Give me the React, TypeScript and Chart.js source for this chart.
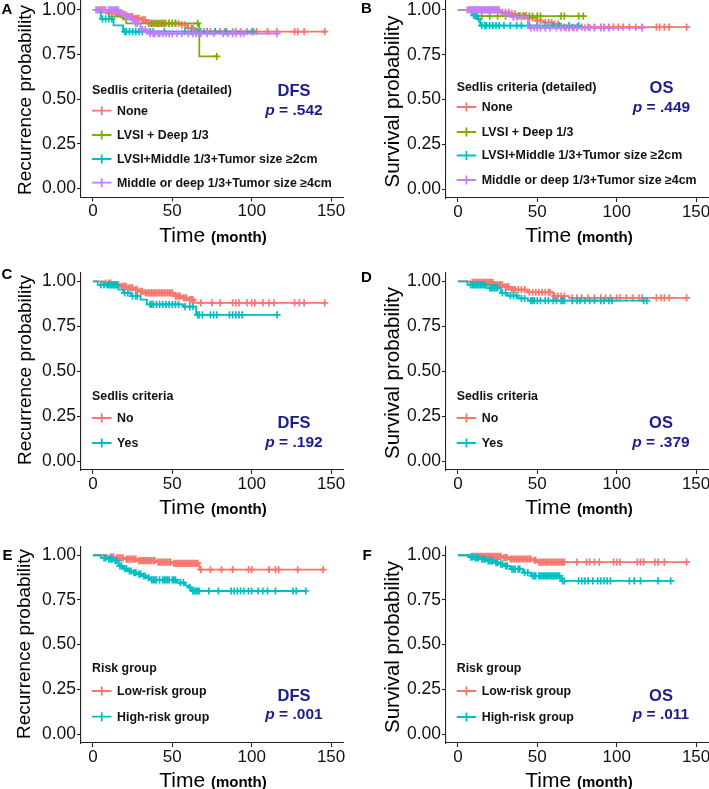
import React, { useEffect, useRef } from 'react';
import { Chart, registerables } from 'chart.js';
Chart.register(...registerables);

const FONT = '"Liberation Sans", Arial, Helvetica, sans-serif';
const X_TICKS = [0, 50, 100, 150];
const Y_TICKS = [0, 0.25, 0.5, 0.75, 1];

const RED = '#F8766D';
const GREEN = '#7CAE00';
const TEAL = '#00BFC4';
const PURPLE = '#C77CFF';
const NAVY = '#1c1c8e';
const INK = '#111111';

// ---------- Panel A (DFS, detailed Sedlis) ----------
const A_NONE_T = [9, 17, 22, 26, 30, 34, 55, 59, 64];
const A_NONE_S = [0.981, 0.972, 0.963, 0.953, 0.944, 0.925, 0.916, 0.898, 0.879];
const A_NONE_END = 146;
const A_NONE_C = [3, 5, 7, 10, 12, 14, 15, 16, 18, 19, 20, 21, 23, 24, 25, 27, 28, 29, 31, 32, 33, 35, 36, 37, 38, 40, 41, 42, 44, 45, 46, 48, 50, 52, 54, 56, 58, 60, 62, 63, 66, 70, 74, 77, 80, 83, 88, 90, 93, 97, 100, 103, 110, 116, 127, 129, 133, 146];
const A_DEEP_T = [10, 21, 67];
const A_DEEP_S = [0.962, 0.925, 0.74];
const A_DEEP_END = 78;
const A_DEEP_C = [19, 20, 37, 39, 41, 43, 45, 48, 50, 52, 66, 78];
const A_MID_T = [5, 13, 19];
const A_MID_S = [0.95, 0.913, 0.879];
const A_MID_END = 101;
const A_MID_C = [6, 8, 10, 12, 20, 21, 23, 25, 27, 29, 31, 36, 38, 45, 58, 62, 65, 68, 72, 77, 84, 101];
const A_LARGE_T = [17, 20, 24, 26, 30, 34];
const A_LARGE_S = [0.98, 0.963, 0.944, 0.925, 0.89, 0.867];
const A_LARGE_END = 116;
const A_LARGE_C = [2, 4, 6, 8, 10, 11, 12, 13, 14, 15, 16, 18, 19, 21, 22, 23, 25, 27, 28, 31, 33, 36, 38, 39, 41, 42, 44, 46, 48, 50, 53, 56, 60, 63, 65, 68, 72, 76, 82, 85, 88, 90, 93, 95, 116];

// ---------- Panel B (OS, detailed Sedlis) ----------
const B_NONE_T = [27, 33, 38, 44, 49, 54, 60, 65];
const B_NONE_S = [0.987, 0.978, 0.968, 0.955, 0.94, 0.93, 0.922, 0.904];
const B_NONE_END = 144;
const B_NONE_C = [6, 9, 11, 13, 15, 17, 19, 21, 23, 25, 28, 30, 32, 34, 36, 39, 41, 43, 45, 47, 50, 52, 55, 57, 59, 61, 63, 67, 70, 72, 75, 78, 82, 86, 90, 92, 95, 98, 101, 104, 108, 112, 116, 125, 127, 130, 133, 144];
const B_DEEP_T = [10];
const B_DEEP_S = [0.965];
const B_DEEP_END = 79;
const B_DEEP_C = [12, 15, 20, 25, 30, 35, 38, 42, 45, 47, 50, 52, 65, 67, 76, 79];
const B_MID_T = [9, 12, 14];
const B_MID_S = [0.97, 0.95, 0.912];
const B_MID_END = 76;
const B_MID_C = [10, 11, 13, 15, 17, 18, 20, 22, 24, 26, 29, 33, 37, 40, 45, 50, 55, 60, 64, 70, 76];
const B_LARGE_T = [27, 33, 44];
const B_LARGE_S = [0.98, 0.96, 0.9];
const B_LARGE_END = 116;
const B_LARGE_C = [7, 8, 9, 10, 11, 12, 13, 14, 15, 16, 17, 18, 19, 20, 21, 22, 23, 24, 25, 26, 30, 32, 35, 37, 40, 46, 48, 50, 52, 55, 58, 62, 65, 68, 70, 73, 75, 80, 83, 86, 90, 92, 95, 116];

// ---------- Panel C (DFS, Sedlis) ----------
const C_NO_T = [7, 12, 17, 22, 26, 29, 32, 51, 56, 60, 64];
const C_NO_S = [0.99, 0.981, 0.972, 0.963, 0.954, 0.944, 0.935, 0.917, 0.908, 0.898, 0.88];
const C_NO_END = 146;
const C_NO_C = [8, 10, 11, 13, 14, 15, 16, 18, 19, 20, 21, 23, 24, 25, 27, 28, 30, 31, 33, 34, 35, 36, 37, 38, 39, 40, 41, 42, 43, 44, 45, 46, 47, 48, 49, 50, 52, 53, 54, 55, 57, 58, 59, 61, 62, 63, 68, 75, 80, 88, 90, 92, 97, 100, 102, 107, 111, 114, 127, 130, 133, 146];
const C_YES_T = [3, 16, 19, 24, 30, 34, 57, 65];
const C_YES_S = [0.98, 0.954, 0.935, 0.917, 0.898, 0.872, 0.859, 0.813];
const C_YES_END = 116;
const C_YES_C = [5, 7, 9, 10, 11, 12, 13, 14, 15, 20, 22, 25, 27, 28, 36, 37, 38, 40, 42, 44, 46, 48, 50, 52, 54, 58, 61, 63, 66, 67, 69, 74, 76, 78, 86, 88, 90, 92, 94, 116];

// ---------- Panel D (OS, Sedlis) ----------
const D_NO_T = [8, 23, 29, 33, 44, 60, 70];
const D_NO_S = [0.994, 0.98, 0.969, 0.954, 0.939, 0.917, 0.908];
const D_NO_END = 144;
const D_NO_C = [9, 10, 11, 12, 13, 14, 15, 16, 17, 18, 19, 20, 21, 22, 24, 25, 26, 27, 28, 30, 31, 32, 34, 35, 36, 38, 40, 42, 45, 47, 49, 51, 53, 55, 57, 58, 61, 63, 65, 67, 72, 75, 78, 82, 86, 90, 93, 96, 100, 102, 106, 110, 114, 116, 125, 128, 130, 133, 144];
const D_YES_T = [6, 18, 27, 31, 38, 44];
const D_YES_S = [0.98, 0.963, 0.935, 0.92, 0.905, 0.892];
const D_YES_END = 119;
const D_YES_C = [8, 9, 10, 11, 12, 13, 14, 15, 16, 17, 20, 21, 22, 23, 24, 25, 28, 30, 33, 35, 37, 40, 42, 46, 47, 48, 50, 52, 55, 57, 60, 62, 65, 66, 67, 72, 75, 77, 80, 83, 86, 90, 92, 95, 97, 117, 119];

// ---------- Panel E (DFS, risk group) ----------
const E_LOW_T = [9, 14, 20, 28, 40, 50, 67];
const E_LOW_S = [0.99, 0.985, 0.978, 0.97, 0.962, 0.955, 0.92];
const E_LOW_END = 145;
const E_LOW_C = [11, 12, 13, 15, 16, 17, 18, 19, 21, 22, 23, 24, 25, 26, 27, 29, 30, 31, 32, 33, 34, 35, 36, 37, 38, 39, 41, 42, 43, 44, 45, 46, 47, 48, 49, 51, 52, 53, 54, 55, 56, 57, 58, 59, 60, 61, 62, 63, 64, 65, 66, 68, 74, 81, 88, 98, 100, 111, 115, 117, 129, 145];
const E_HIGH_T = [5, 9, 13, 16, 19, 22, 25, 28, 31, 34, 36, 53, 58, 60, 62];
const E_HIGH_S = [0.985, 0.978, 0.97, 0.94, 0.925, 0.912, 0.903, 0.894, 0.884, 0.875, 0.862, 0.847, 0.832, 0.82, 0.8];
const E_HIGH_END = 134;
const E_HIGH_C = [7, 8, 10, 11, 12, 14, 15, 17, 18, 20, 21, 23, 24, 26, 27, 29, 30, 32, 33, 35, 37, 38, 39, 40, 42, 44, 45, 46, 47, 48, 50, 51, 52, 55, 57, 61, 63, 64, 65, 66, 67, 73, 79, 87, 89, 91, 93, 95, 98, 100, 104, 107, 110, 115, 126, 128, 134];

// ---------- Panel F (OS, risk group) ----------
const F_LOW_T = [8, 28, 32, 47, 50];
const F_LOW_S = [0.994, 0.987, 0.979, 0.972, 0.962];
const F_LOW_END = 144;
const F_LOW_C = [9, 10, 11, 12, 13, 14, 15, 16, 17, 18, 19, 20, 21, 22, 23, 24, 25, 26, 27, 29, 30, 31, 33, 34, 35, 36, 37, 38, 39, 40, 41, 42, 43, 44, 45, 46, 48, 49, 51, 52, 53, 54, 55, 56, 57, 58, 59, 60, 61, 62, 63, 64, 65, 66, 67, 75, 81, 83, 86, 89, 98, 100, 102, 113, 115, 117, 124, 126, 130, 144];
const F_HIGH_T = [7, 10, 14, 18, 23, 26, 29, 33, 41, 46, 65];
const F_HIGH_S = [0.99, 0.985, 0.978, 0.968, 0.959, 0.95, 0.94, 0.922, 0.903, 0.885, 0.857];
const F_HIGH_END = 134;
const F_HIGH_C = [8, 9, 11, 12, 13, 15, 16, 17, 19, 20, 21, 22, 24, 25, 27, 28, 30, 31, 34, 35, 36, 38, 39, 42, 44, 47, 48, 49, 51, 52, 53, 54, 55, 56, 57, 58, 59, 60, 61, 62, 63, 64, 66, 67, 76, 78, 80, 82, 85, 88, 90, 92, 94, 96, 108, 111, 115, 126, 134];

const DETAILED_LABELS = ['None', 'LVSI + Deep 1/3', 'LVSI+Middle 1/3+Tumor size \u22652cm', 'Middle or deep 1/3+Tumor size \u22654cm'];
const SEDLIS_LABELS = ['No', 'Yes'];
const RISK_LABELS = ['Low-risk group', 'High-risk group'];

type Group = { label: string; color: string; t: number[]; s: number[]; end: number; c: number[] };

const mk = (label: string, color: string, t: number[], s: number[], end: number, c: number[]): Group => ({ label, color, t, s, end, c });

const PANELS = [
  {
    letter: 'A', canvasX: 0, canvasY: -30, canvasW: 354, plot: { L: 81, T: 1, R: 343, B: 197.5 },
    letterPos: [7, 10], yTitle: 'Recurrence probability', yTitleSize: 19, yTitlePos: [26, 100],
    xTitleX: 213, xTitleBase: 241.5,
    legendTitle: 'Sedlis criteria (detailed)', legendX: 92, legendTitleY: 90.5, legendItemsY: [110.7, 135, 159, 182.7],
    stat: 'DFS', p: '.542', statX: 294, statY: [91, 111],
    groups: [
      mk(DETAILED_LABELS[0], RED, A_NONE_T, A_NONE_S, A_NONE_END, A_NONE_C),
      mk(DETAILED_LABELS[1], GREEN, A_DEEP_T, A_DEEP_S, A_DEEP_END, A_DEEP_C),
      mk(DETAILED_LABELS[2], TEAL, A_MID_T, A_MID_S, A_MID_END, A_MID_C),
      mk(DETAILED_LABELS[3], PURPLE, A_LARGE_T, A_LARGE_S, A_LARGE_END, A_LARGE_C),
    ],
  },
  {
    letter: 'B', canvasX: 354, canvasY: -30, canvasW: 375, plot: { L: 446, T: 1, R: 708, B: 198 },
    letterPos: [366.5, 8.5], yTitle: 'Survival probability', yTitleSize: 20.5, yTitlePos: [393, 101.5],
    xTitleX: 579, xTitleBase: 241.5,
    legendTitle: 'Sedlis criteria (detailed)', legendX: 456.7, legendTitleY: 88, legendItemsY: [107, 132, 155.5, 180],
    stat: 'OS', p: '.449', statX: 661.5, statY: [88, 107.5],
    groups: [
      mk(DETAILED_LABELS[0], RED, B_NONE_T, B_NONE_S, B_NONE_END, B_NONE_C),
      mk(DETAILED_LABELS[1], GREEN, B_DEEP_T, B_DEEP_S, B_DEEP_END, B_DEEP_C),
      mk(DETAILED_LABELS[2], TEAL, B_MID_T, B_MID_S, B_MID_END, B_MID_C),
      mk(DETAILED_LABELS[3], PURPLE, B_LARGE_T, B_LARGE_S, B_LARGE_END, B_LARGE_C),
    ],
  },
  {
    letter: 'C', canvasX: 0, canvasY: 233, canvasW: 354, plot: { L: 81, T: 272.3, R: 343, B: 470 },
    letterPos: [7, 274.7], yTitle: 'Recurrence probability', yTitleSize: 19, yTitlePos: [26, 370],
    xTitleX: 213, xTitleBase: 513.5,
    legendTitle: 'Sedlis criteria', legendX: 92, legendTitleY: 397, legendItemsY: [418, 443],
    stat: 'DFS', p: '.192', statX: 294, statY: [423.7, 443],
    groups: [
      mk(SEDLIS_LABELS[0], RED, C_NO_T, C_NO_S, C_NO_END, C_NO_C),
      mk(SEDLIS_LABELS[1], TEAL, C_YES_T, C_YES_S, C_YES_END, C_YES_C),
    ],
  },
  {
    letter: 'D', canvasX: 354, canvasY: 233, canvasW: 375, plot: { L: 446, T: 272.3, R: 708, B: 470 },
    letterPos: [366.5, 278], yTitle: 'Survival probability', yTitleSize: 20.5, yTitlePos: [393, 373],
    xTitleX: 579, xTitleBase: 513.5,
    legendTitle: 'Sedlis criteria', legendX: 456.7, legendTitleY: 397, legendItemsY: [418, 443],
    stat: 'OS', p: '.379', statX: 661, statY: [423, 442.5],
    groups: [
      mk(SEDLIS_LABELS[0], RED, D_NO_T, D_NO_S, D_NO_END, D_NO_C),
      mk(SEDLIS_LABELS[1], TEAL, D_YES_T, D_YES_S, D_YES_END, D_YES_C),
    ],
  },
  {
    letter: 'E', canvasX: 0, canvasY: 496, canvasW: 354, plot: { L: 81, T: 546.3, R: 343, B: 743 },
    letterPos: [7.5, 556], yTitle: 'Recurrence probability', yTitleSize: 19, yTitlePos: [25, 644],
    xTitleX: 213, xTitleBase: 786.5,
    legendTitle: 'Risk group', legendX: 92, legendTitleY: 668.7, legendItemsY: [691, 716.7],
    stat: 'DFS', p: '.001', statX: 294, statY: [696.5, 714.5],
    groups: [
      mk(RISK_LABELS[0], RED, E_LOW_T, E_LOW_S, E_LOW_END, E_LOW_C),
      mk(RISK_LABELS[1], TEAL, E_HIGH_T, E_HIGH_S, E_HIGH_END, E_HIGH_C),
    ],
  },
  {
    letter: 'F', canvasX: 354, canvasY: 496, canvasW: 375, plot: { L: 446, T: 546.3, R: 708, B: 743 },
    letterPos: [367, 556], yTitle: 'Survival probability', yTitleSize: 20.5, yTitlePos: [393, 647],
    xTitleX: 579, xTitleBase: 786.5,
    legendTitle: 'Risk group', legendX: 456.7, legendTitleY: 668.7, legendItemsY: [691, 717],
    stat: 'OS', p: '.011', statX: 661, statY: [696.5, 714.5],
    groups: [
      mk(RISK_LABELS[0], RED, F_LOW_T, F_LOW_S, F_LOW_END, F_LOW_C),
      mk(RISK_LABELS[1], TEAL, F_HIGH_T, F_HIGH_S, F_HIGH_END, F_HIGH_C),
    ],
  },
];

const CANVAS_H = 300;

function survAt(t: number[], s: number[], x: number): number {
  let v = 1;
  for (let i = 0; i < t.length; i++) {
    if (t[i] <= x) v = s[i];
  }
  return v;
}

function Panel({ cfg }: { cfg: any }) {
  const ref = useRef<HTMLCanvasElement | null>(null);
  useEffect(() => {
    if (!ref.current) return;
    const n = cfg.groups.length;
    const datasets: any[] = [];
    cfg.groups.forEach((g: Group, gi: number) => {
      const pts = [{ x: 0, y: 1 }, ...g.t.map((t, i) => ({ x: t, y: g.s[i] })), { x: g.end, y: g.s[g.s.length - 1] }];
      datasets.push({
        label: g.label,
        data: pts,
        borderColor: g.color,
        backgroundColor: g.color,
        borderWidth: 1.8,
        stepped: true,
        pointRadius: 0,
        fill: false,
        order: (n - gi) * 2,
      });
      datasets.push({
        label: g.label + ' censored',
        data: g.c.map((c) => ({ x: c, y: survAt(g.t, g.s, c) })),
        showLine: false,
        pointStyle: 'cross',
        pointRadius: 3.6,
        pointBorderWidth: 1.7,
        pointBorderColor: g.color,
        pointBackgroundColor: g.color,
        borderColor: g.color,
        order: (n - gi) * 2 - 1,
      });
    });

    const padTop = cfg.plot.T - cfg.canvasY;
    const padRight = cfg.canvasX + cfg.canvasW - cfg.plot.R;
    const yWidth = cfg.plot.L - cfg.canvasX;
    const xHeight = cfg.canvasY + CANVAS_H - cfg.plot.B;

    const textPlugin = {
      id: 'panelText',
      afterDraw(chart: any) {
        const ctx: CanvasRenderingContext2D = chart.ctx;
        ctx.save();
        ctx.translate(-cfg.canvasX, -cfg.canvasY);
        ctx.fillStyle = '#000';
        // panel letter
        ctx.font = `bold 15px ${FONT}`;
        ctx.textAlign = 'center';
        ctx.textBaseline = 'middle';
        ctx.fillText(cfg.letter, cfg.letterPos[0], cfg.letterPos[1]);
        // y title
        ctx.save();
        ctx.translate(cfg.yTitlePos[0], cfg.yTitlePos[1]);
        ctx.rotate(-Math.PI / 2);
        ctx.font = `${cfg.yTitleSize}px ${FONT}`;
        ctx.fillText(cfg.yTitle, 0, 0);
        ctx.restore();
        // x title
        const f1 = `21px ${FONT}`;
        const f2 = `bold 15px ${FONT}`;
        ctx.font = f1;
        const w1 = ctx.measureText('Time ').width;
        ctx.font = f2;
        const w2 = ctx.measureText('(month)').width;
        const x0 = cfg.xTitleX - (w1 + w2) / 2;
        ctx.textAlign = 'left';
        ctx.textBaseline = 'alphabetic';
        ctx.font = f1;
        ctx.fillText('Time ', x0, cfg.xTitleBase);
        ctx.font = f2;
        ctx.fillText('(month)', x0 + w1, cfg.xTitleBase);
        // legend
        ctx.fillStyle = INK;
        ctx.textBaseline = 'middle';
        ctx.font = `bold 12.4px ${FONT}`;
        ctx.fillText(cfg.legendTitle, cfg.legendX, cfg.legendTitleY);
        cfg.groups.forEach((g: Group, i: number) => {
          const y = cfg.legendItemsY[i];
          const lx = cfg.legendX;
          ctx.strokeStyle = g.color;
          ctx.lineWidth = 1.8;
          ctx.beginPath();
          ctx.moveTo(lx, y);
          ctx.lineTo(lx + 19.5, y);
          ctx.moveTo(lx + 9.75, y - 4.5);
          ctx.lineTo(lx + 9.75, y + 4.5);
          ctx.stroke();
          ctx.fillStyle = INK;
          ctx.fillText(g.label, lx + 25, y + 0.5);
        });
        // stat annotation
        ctx.fillStyle = NAVY;
        ctx.textAlign = 'center';
        ctx.font = `bold 16.5px ${FONT}`;
        ctx.fillText(cfg.stat, cfg.statX, cfg.statY[0]);
        const fi = `italic bold 15.5px ${FONT}`;
        const fb = `bold 15.5px ${FONT}`;
        ctx.font = fi;
        const pw = ctx.measureText('p').width;
        ctx.font = fb;
        const rest = ' = ' + cfg.p;
        const rw = ctx.measureText(rest).width;
        const sx = cfg.statX - (pw + rw) / 2;
        ctx.textAlign = 'left';
        ctx.font = fi;
        ctx.fillText('p', sx, cfg.statY[1]);
        ctx.font = fb;
        ctx.fillText(rest, sx + pw, cfg.statY[1]);
        ctx.restore();
      },
    };

    const chart = new Chart(ref.current, {
      type: 'line',
      data: { datasets },
      plugins: [textPlugin],
      options: {
        animation: false,
        responsive: false,
        devicePixelRatio: 1,
        events: [],
        layout: { padding: { left: 0, top: padTop, right: padRight, bottom: 0 } },
        plugins: { legend: { display: false }, tooltip: { enabled: false }, title: { display: false } },
        scales: {
          x: {
            type: 'linear',
            min: -7.5,
            max: 157.5,
            afterBuildTicks: (s: any) => { s.ticks = X_TICKS.map((v) => ({ value: v })); },
            afterFit: (s: any) => { s.height = xHeight; },
            grid: { display: true, drawOnChartArea: false, drawTicks: true, tickLength: 4, color: '#222', tickColor: '#222', tickWidth: 1.1 },
            border: { display: true, color: '#222', width: 1.1 },
            ticks: { font: { family: FONT, size: 17 }, color: INK, padding: 0, maxRotation: 0, autoSkip: false, callback: (v: any) => String(v) },
          },
          y: {
            type: 'linear',
            min: -0.05,
            max: 1.05,
            afterBuildTicks: (s: any) => { s.ticks = Y_TICKS.map((v) => ({ value: v })); },
            afterFit: (s: any) => { s.width = yWidth; },
            grid: { display: true, drawOnChartArea: false, drawTicks: true, tickLength: 4, color: '#222', tickColor: '#222', tickWidth: 1.1 },
            border: { display: true, color: '#222', width: 1.1 },
            ticks: { font: { family: FONT, size: 17.5 }, color: INK, padding: 1, autoSkip: false, callback: (v: any) => Number(v).toFixed(2) },
          },
        },
      } as any,
    });
    return () => chart.destroy();
  }, [cfg]);

  return (
    <canvas
      ref={ref}
      width={cfg.canvasW}
      height={CANVAS_H}
      style={{ position: 'absolute', left: cfg.canvasX, top: cfg.canvasY, width: cfg.canvasW, height: CANVAS_H }}
    />
  );
}

export default function App() {
  useEffect(() => {
    document.body.style.margin = '0';
  }, []);
  return (
    <div style={{ position: 'absolute', left: 0, top: 0, width: 709, height: 789, overflow: 'hidden', background: '#fff' }}>
      {PANELS.map((p) => (
        <Panel key={p.letter} cfg={p} />
      ))}
    </div>
  );
}
